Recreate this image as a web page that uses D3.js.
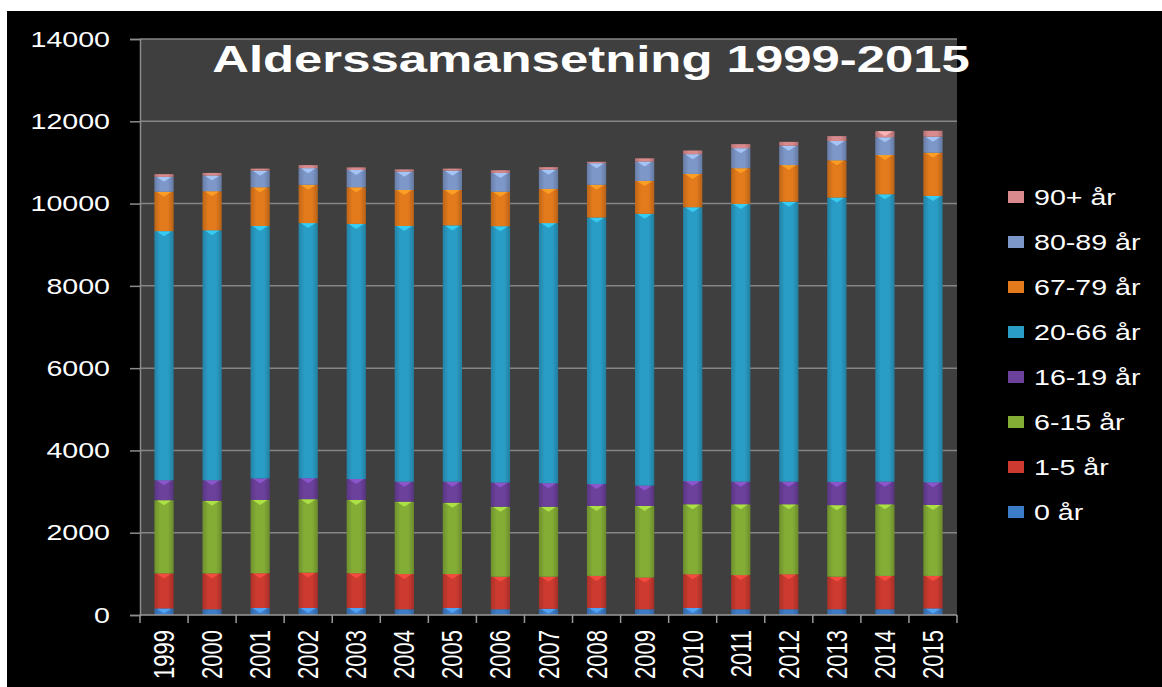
<!DOCTYPE html>
<html>
<head>
<meta charset="utf-8">
<script src="https://cdn.jsdelivr.net/npm/d3@7"></script>
<style>
  body { margin: 0; background: #fff; }
  svg { display: block; }
</style>
</head>
<body>
<div id="chart"></div>
<script>
// Data
const years = ["1999", "2000", "2001", "2002", "2003", "2004", "2005", "2006", "2007",
  "2008", "2009", "2010", "2011", "2012", "2013", "2014", "2015"];
const ageGroups = ["0 år", "1-5 år", "6-15 år", "16-19 år", "20-66 år", "67-79 år", "80-89 år", "90+ år"];
const age0 = [160, 140, 170, 170, 170, 140, 170, 140, 150, 170, 140, 170, 140, 140, 140, 140, 160];
const age1to5 = [850, 870, 845, 860, 845, 855, 825, 790, 780, 780, 770, 820, 830, 850, 790, 810, 790];
const age6to15 = [1780, 1765, 1780, 1785, 1780, 1760, 1735, 1700, 1700, 1700, 1740, 1700, 1720, 1700, 1740, 1740, 1725];
const age16to19 = [485, 500, 525, 510, 510, 485, 510, 590, 575, 535, 495, 565, 550, 550, 565, 550, 550];
const age20to66 = [6055, 6075, 6135, 6200, 6200, 6215, 6230, 6230, 6320, 6475, 6605, 6655, 6750, 6805, 6910, 6985, 6960];
const age67to79 = [955, 950, 940, 930, 890, 875, 860, 835, 830, 795, 800, 810, 870, 890, 905, 955, 1050];
const age80to89 = [365, 380, 405, 405, 420, 445, 470, 460, 470, 525, 470, 480, 485, 470, 470, 430, 390];
const age90plus = [65, 65, 50, 75, 65, 55, 50, 65, 60, 35, 80, 90, 100, 95, 120, 150, 145];
const yTicks = [0, 2000, 4000, 6000, 8000, 10000, 12000, 14000];
const title = "Alderssamansetning 1999-2015";

const seriesValues = [age0, age1to5, age6to15, age16to19, age20to66, age67to79, age80to89, age90plus];
const colors = ["#3d7cc6", "#cc3a30", "#84ad36", "#6c419c", "#2a9dc6", "#e37a1c", "#7d97c9", "#d98a8c"];

// table for d3.stack
const table = years.map((y, i) => {
  const row = { year: y };
  ageGroups.forEach((g, j) => { row[g] = seriesValues[j][i]; });
  return row;
});

const W = 1162, H = 687;
const plot = { left: 140, right: 957, top: 39, bottom: 615 };
const stretch = 1.3; // the picture's text is wide

const svg = d3.select("#chart").append("svg")
  .attr("width", W)
  .attr("height", H);

// black chart frame
svg.append("rect")
  .attr("x", 7).attr("y", 11)
  .attr("width", W - 7).attr("height", H - 11)
  .attr("fill", "#000");

// plot background
svg.append("rect")
  .attr("x", plot.left).attr("y", plot.top)
  .attr("width", plot.right - plot.left).attr("height", plot.bottom - plot.top)
  .attr("fill", "#3f3f3f");

const x = d3.scaleBand()
  .domain(years)
  .range([plot.left, plot.right])
  .paddingInner(0.6)
  .paddingOuter(0.3);

const y = d3.scaleLinear()
  .domain([0, 14000])
  .range([plot.bottom, plot.top]);

// gradients for a bit of the bevelled look
const defs = svg.append("defs");
colors.forEach((c, i) => {
  const g = defs.append("linearGradient")
    .attr("id", "grad" + i)
    .attr("x1", "0%").attr("x2", "100%")
    .attr("y1", "0%").attr("y2", "0%");
  g.append("stop").attr("offset", "0%").attr("stop-color", d3.color(c).darker(0.5));
  g.append("stop").attr("offset", "30%").attr("stop-color", c);
  g.append("stop").attr("offset", "70%").attr("stop-color", c);
  g.append("stop").attr("offset", "100%").attr("stop-color", d3.color(c).darker(0.6));
});

// gridlines
svg.append("g")
  .selectAll("line")
  .data(yTicks.filter(t => t > 0))
  .join("line")
  .attr("x1", plot.left).attr("x2", plot.right)
  .attr("y1", d => y(d)).attr("y2", d => y(d))
  .attr("stroke", "#858585")
  .attr("stroke-width", 1.5);

// y axis
const yAxis = svg.append("g")
  .attr("transform", `translate(${plot.left},0)`)
  .call(d3.axisLeft(y).tickValues(yTicks).tickSize(10).tickFormat(""));
yAxis.selectAll("path, line").attr("stroke", "#8c8c8c").attr("stroke-width", 1.5);

svg.append("g")
  .selectAll("text")
  .data(yTicks)
  .join("text")
  .attr("transform", d => `translate(110,${y(d)}) scale(${stretch},1)`)
  .attr("dy", "0.35em")
  .attr("text-anchor", "end")
  .style("font-family", "'Liberation Sans', Arial, sans-serif")
  .style("font-size", "22px")
  .style("fill", "#fff")
  .text(d => d);

// stacked bars
const stack = d3.stack().keys(ageGroups);
const series = stack(table);

const layers = svg.append("g")
  .selectAll("g")
  .data(series)
  .join("g");

layers.selectAll("rect")
  .data(d => d)
  .join("rect")
  .attr("x", d => x(d.data.year))
  .attr("y", d => y(d[1]))
  .attr("width", x.bandwidth())
  .attr("height", d => y(d[0]) - y(d[1]))
  .attr("fill", function () {
    return `url(#grad${d3.select(this.parentNode).datum().index})`;
  });

// small light chevrons at the top of each segment
layers.selectAll("path")
  .data(d => d.filter(s => y(s[0]) - y(s[1]) > 6))
  .join("path")
  .attr("d", d => {
    const x0 = x(d.data.year), x1 = x0 + x.bandwidth(), t = y(d[1]);
    return `M${x0 + 2},${t}L${x1 - 2},${t}L${(x0 + x1) / 2},${t + 5}Z`;
  })
  .attr("fill", function () {
    const c = colors[d3.select(this.parentNode).datum().index];
    return d3.color(c).brighter(0.9);
  })
  .attr("opacity", 0.8);

// x axis line and category boundary ticks
const step = x.step();
svg.append("line")
  .attr("x1", plot.left).attr("x2", plot.right)
  .attr("y1", plot.bottom).attr("y2", plot.bottom)
  .attr("stroke", "#9a9a9a").attr("stroke-width", 1.5);

svg.append("g")
  .selectAll("line")
  .data(years.concat(["end"]))
  .join("line")
  .attr("x1", (d, i) => i < years.length ? x(d) + x.bandwidth() / 2 - step / 2 : plot.right)
  .attr("x2", (d, i) => i < years.length ? x(d) + x.bandwidth() / 2 - step / 2 : plot.right)
  .attr("y1", plot.bottom).attr("y2", plot.bottom + 8)
  .attr("stroke", "#9a9a9a").attr("stroke-width", 1.5);

svg.append("g")
  .selectAll("text")
  .data(years)
  .join("text")
  .attr("transform", d => `translate(${x(d) + x.bandwidth() / 2},630) scale(${stretch},1) rotate(-90)`)
  .attr("dy", "0.35em")
  .attr("text-anchor", "end")
  .style("font-family", "'Liberation Sans', Arial, sans-serif")
  .style("font-size", "22px")
  .style("fill", "#fff")
  .text(d => d);

// title
const titleText = svg.append("text")
  .attr("text-anchor", "middle")
  .style("font-family", "'Liberation Sans', Arial, sans-serif")
  .style("font-weight", "bold")
  .style("font-size", "37px")
  .style("fill", "#fff")
  .text(title);
const tw = titleText.node().getComputedTextLength();
titleText.attr("transform", `translate(591,72) scale(${758 / tw},1)`);

// legend, top entry is the last series
const legend = svg.append("g")
  .selectAll("g")
  .data(ageGroups.slice().reverse())
  .join("g")
  .attr("transform", (d, i) => `translate(1008,${197 + i * 45})`);

legend.append("rect")
  .attr("x", 0).attr("y", -6)
  .attr("width", 16).attr("height", 12)
  .attr("fill", d => colors[ageGroups.indexOf(d)]);

legend.append("text")
  .attr("transform", `translate(26,0) scale(${stretch},1)`)
  .attr("dy", "0.35em")
  .style("font-family", "'Liberation Sans', Arial, sans-serif")
  .style("font-size", "22px")
  .style("fill", "#fff")
  .text(d => d);
</script>
</body>
</html>
